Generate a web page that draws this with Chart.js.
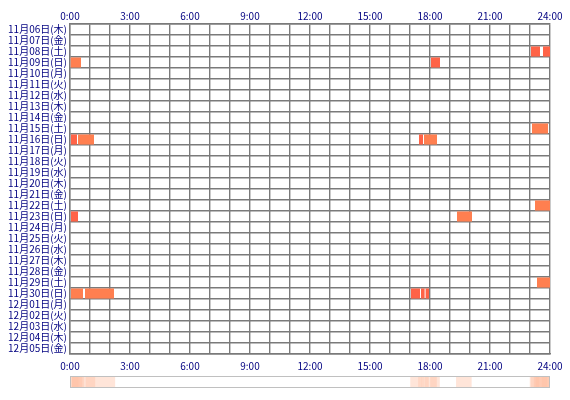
<!DOCTYPE html>
<html><head><meta charset="utf-8">
<script src="https://cdn.jsdelivr.net/npm/chart.js@4"></script>
<style>
body{margin:0;background:#fff;}
#main{position:absolute;left:0;top:0;width:570px;height:400px;}
#strip{position:absolute;left:70px;top:376px;width:478px;height:10px;border:1px solid #c0c0c0;}
</style></head><body>
<div id="main"><canvas id="c"></canvas></div>
<div id="strip"><canvas id="s"></canvas></div>
<script>
// 日付ラベル
const days = ['11月06日(木)','11月07日(金)','11月08日(土)','11月09日(日)','11月10日(月)','11月11日(火)','11月12日(水)','11月13日(木)','11月14日(金)','11月15日(土)','11月16日(日)','11月17日(月)','11月18日(火)','11月19日(水)','11月20日(木)','11月21日(金)','11月22日(土)','11月23日(日)','11月24日(月)','11月25日(火)','11月26日(水)','11月27日(木)','11月28日(金)','11月29日(土)','11月30日(日)','12月01日(月)','12月02日(火)','12月03日(水)','12月04日(木)','12月05日(金)'];
const hourTicks = ['0:00','3:00','6:00','9:00','12:00','15:00','18:00','21:00','24:00'];
// 区間: 日付, 開始時刻, 終了時刻 (時間)
const spanDay   = ['11月08日(土)','11月08日(土)','11月09日(日)','11月09日(日)','11月15日(土)','11月16日(日)','11月16日(日)','11月16日(日)','11月16日(日)','11月22日(土)','11月23日(日)','11月23日(日)','11月29日(土)','11月30日(日)','11月30日(日)','11月30日(日)','11月30日(日)','11月30日(日)'];
const spanStart = [23.05,23.65,0.0,18.05,23.1,0.05,0.4,17.45,17.7,23.25,0.05,19.35,23.35,0.05,0.75,17.05,17.55,17.78];
const spanEnd   = [23.5,24.0,0.55,18.5,23.9,0.35,1.2,17.65,18.35,24.0,0.4,20.1,24.0,0.65,2.2,17.5,17.73,17.95];

const font = {family:'"Noto Sans CJK JP", sans-serif', size:10};
const navy = '#000080';
const spans = spanDay.map((d,i) => ({y:d, x:[spanStart[i], spanEnd[i]]}));
const colors = spans.map(s => (s.x[1]-s.x[0] > 0.5 ? '#ff7f50' : '#ff6347'));

const tickCb = v => (v % 3 === 0 ? hourTicks[v/3] : '');
new Chart(document.getElementById('c'), {
  type:'bar',
  data:{labels:days, datasets:[{data:spans, backgroundColor:colors, categoryPercentage:1, barPercentage:0.92, grouped:false}]},
  options:{
    indexAxis:'y', responsive:true, maintainAspectRatio:false, animation:false,
    plugins:{legend:{display:false}, tooltip:{enabled:false}},
    layout:{padding:{right:20}},
    scales:{
      x:{position:'top', type:'linear', min:0, max:24,
         ticks:{stepSize:1, autoSkip:false, maxRotation:0, callback:tickCb, color:navy, font, padding:2},
         grid:{color:'#7a7a7a', lineWidth:1.4, drawTicks:false}, border:{color:'#7a7a7a', width:1.4},
         afterFit:s=>{s.height=24;}},
      x2:{position:'bottom', type:'linear', min:0, max:24,
         ticks:{stepSize:1, autoSkip:false, maxRotation:0, callback:tickCb, color:navy, font, padding:6},
         grid:{display:false, drawTicks:false}, border:{color:'#7a7a7a', width:1.4},
         afterFit:s=>{s.height=46;}},
      y:{ticks:{color:navy, font, autoSkip:false, padding:3},
         grid:{color:'#7a7a7a', lineWidth:1.4, drawTicks:false, offset:true}, border:{color:'#7a7a7a', width:1.4},
         afterFit:s=>{s.width=70;}}
    }
  }
});

new Chart(document.getElementById('s'), {
  type:'bar',
  data:{labels:['all'], datasets:[{data:spans.map(s=>({y:'all', x:s.x})), backgroundColor:'rgba(255,190,160,0.4)', categoryPercentage:1, barPercentage:1, grouped:false}]},
  options:{
    indexAxis:'y', responsive:true, maintainAspectRatio:false, animation:false,
    plugins:{legend:{display:false}, tooltip:{enabled:false}},
    scales:{x:{type:'linear', min:0, max:24, display:false}, y:{display:false}}
  }
});
</script>
</body></html>
